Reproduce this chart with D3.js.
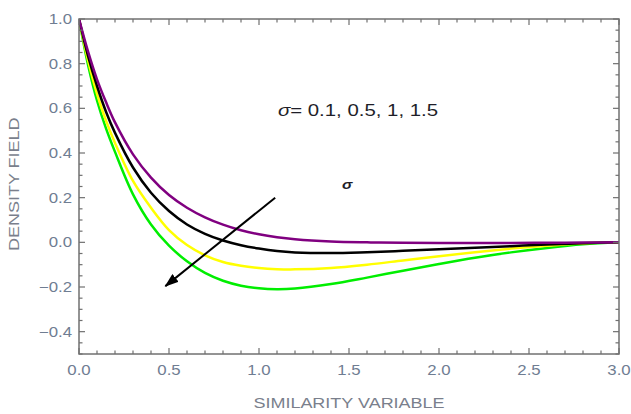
<!DOCTYPE html>
<html lang="en">
<head>
<meta charset="UTF-8">
<title>Density field vs similarity variable</title>
<script src="https://cdnjs.cloudflare.com/ajax/libs/d3/7.8.5/d3.min.js"></script>
<style>
    body { margin: 0; padding: 0; background: #fff; }
    svg { display: block; font-family: "Liberation Sans", Arial, sans-serif; }
    .tick-label { fill: #6f7d92; font-size: 14px; }
    .axis-label { fill: #7a7f8c; font-size: 15px; }
    .frame { fill: none; stroke: #707070; stroke-width: 1.5px; }
    .tick { stroke: #707070; stroke-width: 1.2px; }
    .curve { fill: none; stroke-width: 2.5px; }
</style>
</head>
<body>
<div id="chart"></div>
<script>
    // similarity variable (eta) samples
    const eta = [0, 0.05, 0.1, 0.15, 0.2, 0.3, 0.4, 0.5, 0.6, 0.7, 0.8, 0.9, 1.0, 1.1, 1.2, 1.4, 1.6, 1.8, 2.0, 2.2, 2.4, 2.6, 2.8, 3.0];

    // density field for sigma = 0.1, 0.5, 1, 1.5
    const sigma01 = [1.0, 0.855, 0.73, 0.628, 0.537, 0.394, 0.29, 0.212, 0.155, 0.112, 0.079, 0.054, 0.036, 0.023, 0.014, 0.004, 0.0, -0.002, -0.003, -0.003, -0.003, -0.002, -0.001, 0];
    const sigma05 = [1.0, 0.835, 0.70, 0.585, 0.49, 0.335, 0.222, 0.14, 0.08, 0.038, 0.008, -0.013, -0.028, -0.039, -0.045, -0.048, -0.044, -0.038, -0.031, -0.024, -0.017, -0.01, -0.004, 0];
    const sigma1 = [1.0, 0.815, 0.665, 0.545, 0.445, 0.275, 0.155, 0.055, -0.012, -0.058, -0.088, -0.105, -0.115, -0.12, -0.121, -0.115, -0.1, -0.081, -0.062, -0.044, -0.028, -0.015, -0.005, 0];
    const sigma15 = [1.0, 0.795, 0.635, 0.51, 0.405, 0.215, 0.08, -0.015, -0.085, -0.137, -0.172, -0.194, -0.206, -0.21, -0.207, -0.187, -0.158, -0.127, -0.097, -0.069, -0.045, -0.025, -0.009, 0];

    const seriesColors = ["#800080", "#000000", "#ffff00", "#00ee00"];

    const xTicks = [0, 0.5, 1.0, 1.5, 2.0, 2.5, 3.0];
    const yTicks = [-0.4, -0.2, 0.0, 0.2, 0.4, 0.6, 0.8, 1.0];

    const width = 631, height = 414;
    const plot = { left: 79, right: 619, top: 19, bottom: 354 };
    const stretch = 1.2; // text in the figure is drawn wide

    const x = d3.scaleLinear().domain([0, 3]).range([plot.left, plot.right]);
    const y = d3.scaleLinear().domain([-0.5, 1.0]).range([plot.bottom, plot.top]);

    const svg = d3.select("#chart").append("svg")
        .attr("width", width)
        .attr("height", height);

    // curves
    const line = d3.line()
        .x(d => x(d[0]))
        .y(d => y(d[1]))
        .curve(d3.curveCatmullRom.alpha(0.5));

    const series = [sigma01, sigma05, sigma1, sigma15];
    const defs = svg.append("defs");
    defs.append("clipPath").attr("id", "clip")
        .append("rect")
        .attr("x", plot.left).attr("y", plot.top)
        .attr("width", plot.right - plot.left).attr("height", plot.bottom - plot.top);

    svg.append("g").attr("clip-path", "url(#clip)")
        .selectAll("path")
        .data(series.slice().reverse())
        .enter().append("path")
        .attr("class", "curve")
        .attr("stroke", (d, i) => seriesColors[series.length - 1 - i])
        .attr("d", vals => line(vals.map((v, i) => [eta[i], v])));

    // frame
    svg.append("rect")
        .attr("class", "frame")
        .attr("x", plot.left).attr("y", plot.top)
        .attr("width", plot.right - plot.left)
        .attr("height", plot.bottom - plot.top);

    // ticks (inward, on all four sides)
    const xMinor = d3.range(0, 31).map(i => i / 10);
    const yMinor = d3.range(-10, 21).map(i => i / 20);
    const isMajor = (v, step) => Math.abs(v / step - Math.round(v / step)) < 1e-6;

    const ticks = svg.append("g");
    xMinor.forEach(v => {
        const len = isMajor(v, 0.5) ? 6 : 3.5;
        ticks.append("line").attr("class", "tick")
            .attr("x1", x(v)).attr("x2", x(v))
            .attr("y1", plot.bottom).attr("y2", plot.bottom - len);
        ticks.append("line").attr("class", "tick")
            .attr("x1", x(v)).attr("x2", x(v))
            .attr("y1", plot.top).attr("y2", plot.top + len);
    });
    yMinor.forEach(v => {
        const len = isMajor(v, 0.2) ? 6 : 3.5;
        ticks.append("line").attr("class", "tick")
            .attr("x1", plot.left).attr("x2", plot.left + len)
            .attr("y1", y(v)).attr("y2", y(v));
        ticks.append("line").attr("class", "tick")
            .attr("x1", plot.right).attr("x2", plot.right - len)
            .attr("y1", y(v)).attr("y2", y(v));
    });

    // tick labels
    svg.append("g").selectAll("text")
        .data(xTicks)
        .enter().append("text")
        .attr("class", "tick-label")
        .attr("text-anchor", "middle")
        .attr("transform", d => `translate(${x(d)},${plot.bottom + 21}) scale(${stretch},1)`)
        .text(d => d.toFixed(1));

    svg.append("g").selectAll("text")
        .data(yTicks)
        .enter().append("text")
        .attr("class", "tick-label")
        .attr("text-anchor", "end")
        .attr("dy", "0.35em")
        .attr("transform", d => `translate(${plot.left - 7},${y(d)}) scale(${stretch},1)`)
        .text(d => d < 0 ? "\u2212" + Math.abs(d).toFixed(1) : d.toFixed(1));

    // axis labels
    svg.append("text")
        .attr("class", "axis-label")
        .attr("text-anchor", "middle")
        .attr("transform", `translate(${(plot.left + plot.right) / 2},408) scale(${stretch},1)`)
        .text("SIMILARITY VARIABLE");

    svg.append("text")
        .attr("class", "axis-label")
        .attr("text-anchor", "middle")
        .attr("transform", `translate(19,${y(0.26)}) rotate(-90) scale(${stretch},1)`)
        .text("DENSITY FIELD");

    // annotations
    const note = svg.append("text")
        .attr("transform", `translate(${x(1.105)},${y(0.564)}) scale(${stretch},1)`)
        .attr("fill", "#1e1e28")
        .style("font-size", "17px");
    note.append("tspan").style("font-style", "italic").text("\u03c3");
    note.append("tspan").text("= 0.1, 0.5, 1, 1.5");

    svg.append("text")
        .attr("transform", `translate(${x(1.49)},${y(0.24)}) scale(${stretch},1)`)
        .attr("text-anchor", "middle")
        .attr("fill", "#1e1e28")
        .style("font-size", "13px")
        .style("font-style", "italic")
        .style("font-weight", "bold")
        .text("\u03c3");

    defs.append("marker")
        .attr("id", "arrow")
        .attr("viewBox", "0 0 14 10")
        .attr("refX", 13).attr("refY", 5)
        .attr("markerWidth", 14).attr("markerHeight", 10)
        .attr("markerUnits", "userSpaceOnUse")
        .attr("orient", "auto")
        .append("path")
        .attr("d", "M0,0 L14,5 L0,10 Z")
        .attr("fill", "#000");

    svg.append("line")
        .attr("x1", x(1.09)).attr("y1", y(0.2))
        .attr("x2", x(0.48)).attr("y2", y(-0.196))
        .attr("stroke", "#000")
        .attr("stroke-width", 2)
        .attr("marker-end", "url(#arrow)");
</script>
</body>
</html>
